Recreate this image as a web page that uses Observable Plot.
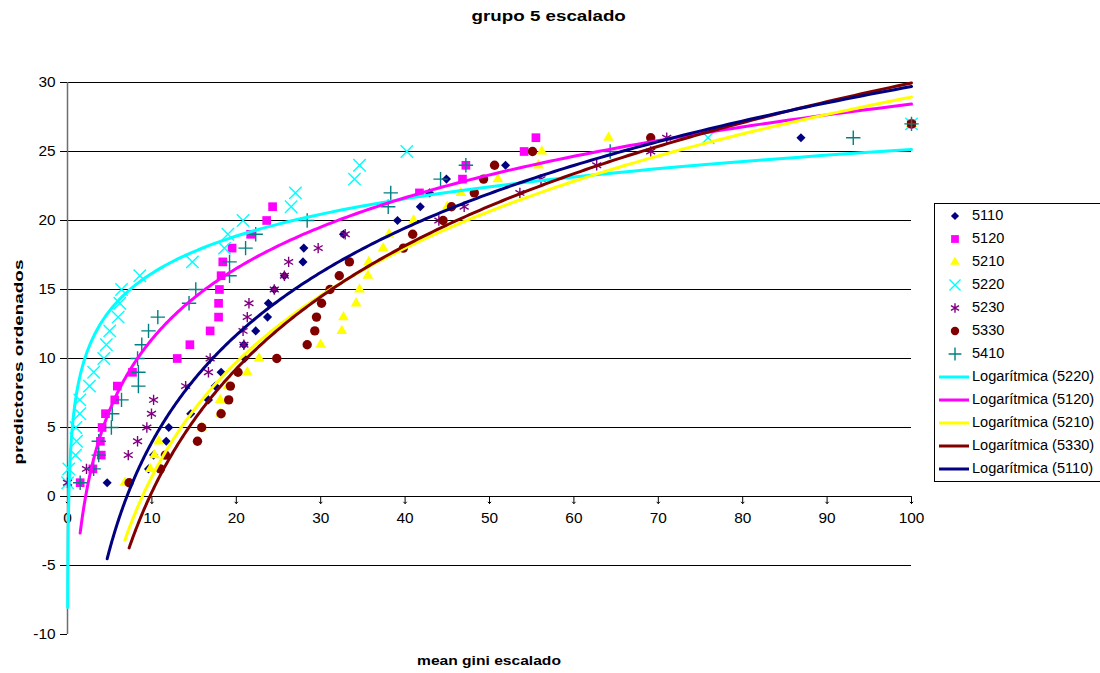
<!DOCTYPE html>
<html><head><meta charset="utf-8">
<script src="https://cdn.jsdelivr.net/npm/d3@7"></script>
<script src="https://cdn.jsdelivr.net/npm/@observablehq/plot@0.6"></script>
<style>
body{margin:0;background:#fff;font-family:"Liberation Sans",Arial,sans-serif;}
#wrap{position:relative;width:1100px;height:673px;overflow:hidden;background:#fff;}
#chart{position:absolute;left:0;top:0;}
#title{position:absolute;left:0;width:1098px;top:7px;text-align:center;font-weight:bold;font-size:15px;}
#title span{display:inline-block;transform:scaleX(1.25);}
#xlabel{position:absolute;left:67px;width:844px;top:653px;text-align:center;font-weight:bold;font-size:13px;}
#xlabel span{display:inline-block;transform:scaleX(1.2);}
#ylabel{position:absolute;left:18px;top:362px;transform:translate(-50%,-50%) rotate(-90deg) scaleX(1.4);font-weight:bold;font-size:13.5px;white-space:nowrap;}
#legend{position:absolute;left:934px;top:203px;width:200px;height:277px;border:1px solid #000;background:#fff;}
.row{position:absolute;left:0;height:20px;font-size:14px;white-space:nowrap;}
.row svg{position:absolute;left:0;top:0;}
.row span{position:absolute;left:37px;top:1px;display:inline-block;transform-origin:0 50%;transform:scaleX(1.04);}
</style></head><body>
<div id="wrap">
  <div id="chart"></div>
  <div id="title"><span>grupo 5 escalado</span></div>
  <div id="xlabel"><span>mean gini escalado</span></div>
  <div id="ylabel">predictores ordenados</div>
  <div id="legend"></div>
</div>
<script>
// ranks (predictores ordenados) shared by all series
const ranks = [1,2,3,4,5,6,7,8,9,10,11,12,13,14,15,16,17,18,19,20,21,22,23,24,25,26,27];
// mean gini escalado per series, in rank order
const x5110 = [4.7,9.6,10.2,11.7,12.0,14.6,16.7,17.5,18.2,21.0,20.9,22.3,23.7,23.8,24.5,25.7,27.9,28.0,32.7,39.1,41.8,42.9,44.9,51.9,55.0,86.9,100];
const x5120 = [1.5,3.0,4.0,3.9,4.1,4.5,5.6,5.9,7.7,13.0,14.5,16.9,17.9,17.9,18.0,18.2,18.4,19.5,21.7,23.6,24.3,41.7,46.8,47.2,54.1,55.5,100];
const x5210 = [6.8,9.8,10.3,10.8,15.9,18.1,18.1,19.0,21.3,22.7,30.0,32.5,32.7,34.2,34.6,35.6,35.7,37.4,38.1,41.0,45.0,46.6,51.0,55.8,56.2,64.1,100];
const x5220 = [0.02,0.15,0.95,1.07,1.0,1.46,1.46,2.6,3.1,4.3,4.6,5.0,6.0,6.2,6.4,8.57,14.8,18.6,19.0,20.8,26.5,27.0,34.0,34.6,40.2,75.9,100];
const x5230 = [0.0,2.25,7.2,8.3,9.4,9.95,10.2,14.0,16.7,16.9,20.9,20.8,21.3,21.5,24.5,25.7,26.2,29.7,32.9,44.0,47.0,53.6,56.1,62.7,69.1,71.0,100];
const x5330 = [7.3,11.0,11.6,15.4,15.9,18.2,19.1,19.3,20.2,24.8,28.4,29.3,29.5,30.1,31.1,32.2,33.4,39.8,40.9,44.5,45.5,48.2,49.3,50.6,55.1,69.1,100];
const x5410 = [1.5,3.1,3.7,3.7,5.2,5.3,6.4,8.4,8.4,8.3,8.8,9.6,10.7,14.4,15.2,19.2,19.2,21.1,22.3,28.4,38.0,38.3,44.2,47.2,64.3,93.1,100];

const seriesNames = ["5110","5120","5210","5220","5230","5330","5410"];
const seriesX = [x5110,x5120,x5210,x5220,x5230,x5330,x5410];
const seriesColors = ["#000080","#FF00FF","#FFFF00","#00FFFF","#800080","#800000","#008080"];
const seriesSymbols = ["diamond2","square","triangle","times","asterisk","circle","plus"];
const seriesFilled = [true,true,true,false,false,true,false];
const seriesR = [4.1,4.9,4.0,5.7,4.9,4.7,4.7];
// logarithmic trend lines, legend order
const trendNames = ["5220","5120","5210","5330","5110"];
const trendLabels = ["Logarítmica (5220)","Logarítmica (5120)","Logarítmica (5210)","Logarítmica (5330)","Logarítmica (5110)"];
const xTicks = [0,10,20,30,40,50,60,70,80,90,100];
const yTicks = [-10,-5,0,5,10,15,20,25,30];
const gridLines = [-5,0,5,10,15,20,25,30];

const marks = [];
marks.push(Plot.ruleY(gridLines, {stroke:"#000", strokeWidth:1}));
marks.push(Plot.ruleX([0], {y1:-10, y2:30, stroke:"#6e6e6e", strokeWidth:1.5}));
marks.push(Plot.axisY(yTicks, {tickSize:7, tickPadding:5, tickFormat:d=>String(d), label:null, stroke:"#000", fontSize:14, fill:"#000"}));
marks.push(Plot.vector(xTicks, {x:d=>d, y:0, length:7, rotate:180, anchor:"start", stroke:"#000", strokeWidth:1}));
marks.push(Plot.text(xTicks, {x:d=>d, y:0, dy:22, text:d=>String(d), fontSize:14, fill:"#000"}));

seriesNames.forEach((name,i)=>{
  const pts = ranks.map((r,j)=>({x:seriesX[i][j], y:r}));
  marks.push(Plot.dot(pts, {x:"x", y:"y", r:seriesR[i], symbol: seriesSymbols[i],
     fill: seriesFilled[i] ? seriesColors[i] : "none",
     stroke: seriesFilled[i] ? "none" : seriesColors[i],
     strokeWidth: seriesFilled[i] ? 0 : 1.4}));
});

// least-squares fit y = a*ln(x) + b (Excel "Logarítmica" trendline), drawn from min x to max x
trendNames.forEach(name=>{
  const i = seriesNames.indexOf(name);
  const xs = seriesX[i], ys = ranks;
  const lx = xs.map(Math.log);
  const mx = d3.mean(lx), my = d3.mean(ys);
  let sxy=0, sxx=0;
  lx.forEach((v,k)=>{ sxy += (v-mx)*(ys[k]-my); sxx += (v-mx)*(v-mx); });
  const a = sxy/sxx, b = my - a*mx;
  const x0 = d3.min(xs), x1 = d3.max(xs);
  const curve = d3.range(0,301).map(k=>{ const xv = x0*Math.pow(x1/x0, k/300); return {x:xv, y:a*Math.log(xv)+b}; });
  marks.push(Plot.line(curve, {x:"x", y:"y", stroke:seriesColors[i], strokeWidth:3, curve:"linear"}));
});

const chart = Plot.plot({
  width:1100, height:673,
  marginLeft:67, marginRight:189, marginTop:82, marginBottom:39,
  x:{domain:[0,100], axis:null},
  y:{domain:[-10,30], axis:null},
  style:{fontFamily:'"Liberation Sans", Arial, sans-serif', fontSize:"14px", color:"#000", background:"transparent"},
  marks
});
document.getElementById("chart").appendChild(chart);
// widen tick labels slightly, like the reference's broad lettering
chart.querySelectorAll("text").forEach(t=>{
  const w = t.getComputedTextLength();
  if (w > 0) { t.setAttribute("textLength", (w*1.1).toFixed(2)); t.setAttribute("lengthAdjust","spacingAndGlyphs"); }
});

// legend
const legend = d3.select("#legend");
const symMap = {diamond2:d3.symbolDiamond2, square:d3.symbolSquare, triangle:d3.symbolTriangle, times:d3.symbolTimes, asterisk:d3.symbolAsterisk, circle:d3.symbolCircle, plus:d3.symbolPlus};
seriesNames.forEach((name,i)=>{
  const row = legend.append("div").attr("class","row").style("top",(2+23*i)+"px").style("width","200px");
  const svg = row.append("svg").attr("width",36).attr("height",20);
  const size = Math.PI*seriesR[i]*seriesR[i]*0.8;
  svg.append("path").attr("transform","translate(20,10)")
    .attr("d", d3.symbol(symMap[seriesSymbols[i]], size)())
    .attr("fill", seriesFilled[i] ? seriesColors[i] : "none")
    .attr("stroke", seriesFilled[i] ? "none" : seriesColors[i])
    .attr("stroke-width", 1.4);
  row.append("span").text(name);
});
trendNames.forEach((name,k)=>{
  const i = seriesNames.indexOf(name);
  const row = legend.append("div").attr("class","row").style("top",(2+23*(7+k))+"px").style("width","200px");
  const svg = row.append("svg").attr("width",36).attr("height",20);
  svg.append("line").attr("x1",4).attr("x2",34).attr("y1",10).attr("y2",10).attr("stroke",seriesColors[i]).attr("stroke-width",3);
  row.append("span").text(trendLabels[k]);
});
</script>
</body></html>
